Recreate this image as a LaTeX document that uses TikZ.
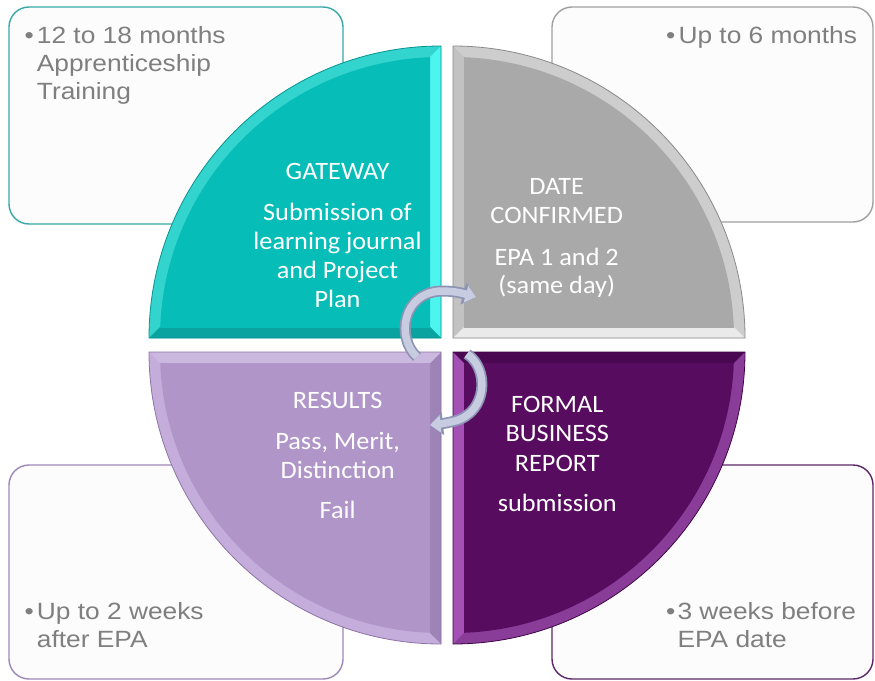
\documentclass[tikz,border=0pt]{standalone}
\usepackage{fontspec}
\usetikzlibrary{arrows.meta}
\newfontfamily\bfont[FakeStretch=1.12]{Liberation Sans}
\newfontfamily\qfont[FakeStretch=1.05]{Carlito}
\definecolor{txtgray}{HTML}{7F7F7F}
\definecolor{bordteal}{HTML}{38A9A8}
\definecolor{bordgray}{HTML}{A0A0A0}
\definecolor{bordlil}{HTML}{9C89B8}
\definecolor{bordplum}{HTML}{5B2768}
\definecolor{tlbase}{HTML}{06BDB8}
\definecolor{tlarc}{HTML}{33D4CE}
\definecolor{tlright}{HTML}{4DF5EE}
\definecolor{tlbot}{HTML}{0AA39F}
\definecolor{tlline}{HTML}{079490}
\definecolor{trbase}{HTML}{A9A9A9}
\definecolor{trarc}{HTML}{CDCDCD}
\definecolor{trleft}{HTML}{C2C2C2}
\definecolor{trbot}{HTML}{EAEAEA}
\definecolor{trline}{HTML}{8A8A8A}
\definecolor{blbase}{HTML}{B096C8}
\definecolor{blarc}{HTML}{C4ADDB}
\definecolor{bltop}{HTML}{CBB8DE}
\definecolor{blright}{HTML}{9E84B6}
\definecolor{blline}{HTML}{8D73A6}
\definecolor{brbase}{HTML}{580C60}
\definecolor{brarc}{HTML}{8A3D98}
\definecolor{brleft}{HTML}{A550B5}
\definecolor{brtop}{HTML}{4A0852}
\definecolor{brline}{HTML}{3D0545}
\definecolor{arlight}{HTML}{C8CCE0}
\definecolor{ardark}{HTML}{8D93B3}
\begin{document}
\begin{tikzpicture}[x=1pt,y=-1pt,
  infobox/.style={line width=1.4pt, fill=white!99!black, rounded corners=20pt},
  btext/.style={inner sep=0pt, anchor=base west, text=txtgray, font=\bfont\fontsize{23.5}{27.7}\selectfont},
  qtext/.style={inner sep=0pt, anchor=base, text=white, font=\qfont\fontsize{25}{29}\selectfont},
  arrowdark/.style={draw=ardark, line width=11pt, -{Triangle[length=13pt,width=22pt]}, color=ardark},
  arrowlight/.style={draw=arlight, line width=7.5pt, -{Triangle[length=10.5pt,width=17pt]}, color=arlight}]
\useasboundingbox (0,0) rectangle (875,680);
\fill[white] (0,0) rectangle (875,680);

% corner boxes
\draw[infobox, draw=bordteal] (9,7) rectangle (343,224);
\draw[infobox, draw=bordgray] (552,7) rectangle (873,222);
\draw[infobox, draw=bordlil] (9,465) rectangle (343,679);
\draw[infobox, draw=bordplum] (552,465) rectangle (873,679);

% box texts
\node[btext] (tl1) at (24.5,43.5) {\makebox[12.2pt][l]{•}12 to 18 months};
\node[btext] (tl2) at (36.7,71.5) {Apprenticeship};
\node[btext] (tl3) at (36.7,99) {Training};
\node[btext] (tr1) at (666,43.5) {\makebox[12.3pt][l]{•}Up to 6 months};
\node[btext] (bl1) at (24.5,619.5) {\makebox[12.2pt][l]{•}Up to 2 weeks};
\node[btext] (bl2) at (36.7,647) {after EPA};
\node[btext] (br1) at (666,619.5) {\makebox[11.3pt][l]{•}3 weeks before};
\node[btext] (br2) at (677.3,647) {EPA date};

% top-left quadrant (teal)
\fill[tlarc] (441,338) -- (149,338) arc[start angle=180,end angle=270,radius=292] -- cycle;
\fill[tlright] (441,338) -- (441,46) -- (430,57.2) -- (430,327) -- cycle;
\fill[tlbot] (441,338) -- (149,338) -- (160.2,327) -- (430,327) -- cycle;
\begin{scope}
  \clip (430,327) rectangle (100,0);
  \fill[tlbase] (441,338) circle[radius=281];
\end{scope}
\draw[tlline, line width=0.8pt] (441,338) -- (149,338) arc[start angle=180,end angle=270,radius=292] -- cycle;

% top-right quadrant (gray)
\fill[trarc] (453,338) -- (453,46) arc[start angle=270,end angle=360,radius=292] -- cycle;
\fill[trleft] (453,338) -- (453,46) -- (464,57.2) -- (464,327) -- cycle;
\fill[trbot] (453,338) -- (745,338) -- (733.8,327) -- (464,327) -- cycle;
\begin{scope}
  \clip (464,327) rectangle (800,0);
  \fill[trbase] (453,338) circle[radius=281];
\end{scope}
\draw[trline, line width=0.8pt] (453,338) -- (453,46) arc[start angle=270,end angle=360,radius=292] -- cycle;

% bottom-left quadrant (lilac)
\fill[blarc] (441,352) -- (441,644) arc[start angle=90,end angle=180,radius=292] -- cycle;
\fill[blright] (441,352) -- (441,644) -- (430,632.8) -- (430,363) -- cycle;
\fill[bltop] (441,352) -- (149,352) -- (160.2,363) -- (430,363) -- cycle;
\begin{scope}
  \clip (430,363) rectangle (100,700);
  \fill[blbase] (441,352) circle[radius=281];
\end{scope}
\draw[blline, line width=0.8pt] (441,352) -- (441,644) arc[start angle=90,end angle=180,radius=292] -- cycle;

% bottom-right quadrant (plum)
\fill[brarc] (453,352) -- (745,352) arc[start angle=0,end angle=90,radius=292] -- cycle;
\fill[brleft] (453,352) -- (453,644) -- (464,632.8) -- (464,363) -- cycle;
\fill[brtop] (453,352) -- (745,352) -- (733.8,363) -- (464,363) -- cycle;
\begin{scope}
  \clip (464,363) rectangle (800,700);
  \fill[brbase] (453,352) circle[radius=281];
\end{scope}
\draw[brline, line width=0.8pt] (453,352) -- (745,352) arc[start angle=0,end angle=90,radius=292] -- cycle;

% quadrant texts
\node[qtext] (g1) at (337.5,179.3) {GATEWAY};
\node[qtext] (g2) at (337.5,220) {Submission of};
\node[qtext] (g3) at (337.5,249.3) {learning journal};
\node[qtext] (g4) at (337.5,278.3) {and Project};
\node[qtext] (g5) at (337.5,307.3) {Plan};
\node[qtext] (d1) at (556.7,194) {DATE};
\node[qtext] (d2) at (556.7,223.3) {CONFIRMED};
\node[qtext] (d3) at (556.7,265) {EPA 1 and 2};
\node[qtext] (d4) at (556.7,293.5) {(same day)};
\node[qtext] (r1) at (337.7,408.3) {RESULTS};
\node[qtext] (r2) at (337.7,449.5) {Pass, Merit,};
\node[qtext] (r3) at (337.7,478) {Distinction};
\node[qtext] (r4) at (337.7,518.3) {Fail};
\node[qtext] (f1) at (557.3,412.7) {FORMAL};
\node[qtext] (f2) at (557.3,441.7) {BUSINESS};
\node[qtext] (f3) at (557.3,471.7) {REPORT};
\node[qtext] (f4) at (557.3,511.7) {submission};

% circular arrows
\coordinate (a1s) at (417,357);
\coordinate (a1e) at (476,297);
\coordinate (a2s) at (467,354);
\coordinate (a2e) at (430,425);
\draw[arrowdark] (a1s) .. controls (396,338) and (402,292) .. (442,291) .. controls (456,291) and (465,294) .. (a1e);
\draw[arrowlight] (a1s) .. controls (396,338) and (402,292) .. (442,291) .. controls (456,291) and (465,294) .. (a1e);
\draw[arrowdark] (a2s) .. controls (489,368) and (488,412) .. (455,421) .. controls (447,423) and (440,424) .. (a2e);
\draw[arrowlight] (a2s) .. controls (489,368) and (488,412) .. (455,421) .. controls (447,423) and (440,424) .. (a2e);
\end{tikzpicture}
\end{document}
